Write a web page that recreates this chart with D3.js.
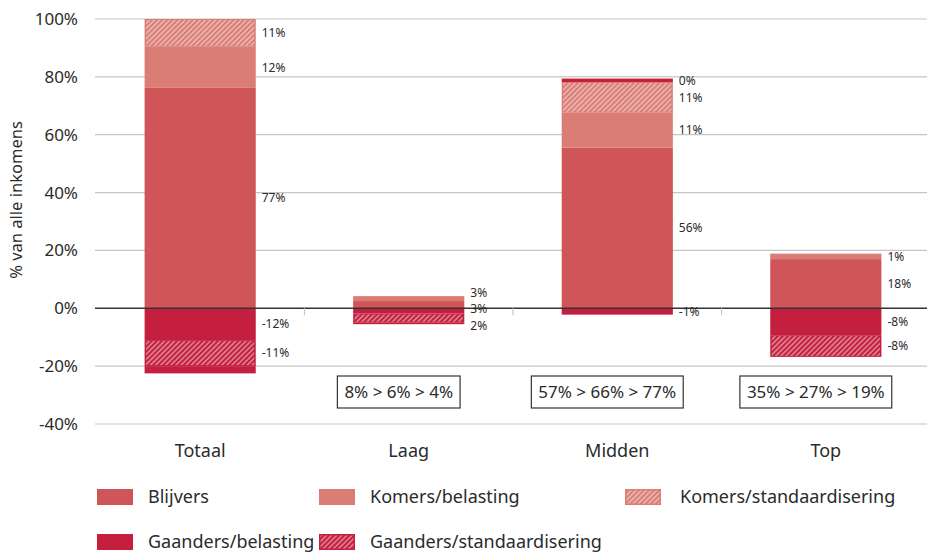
<!DOCTYPE html>
<html>
<head>
<meta charset="utf-8">
<script src="https://cdn.jsdelivr.net/npm/d3@7"></script>
<style>
	body { margin: 0; background: #fff; }
	svg { font-family: 'Noto Sans', 'Open Sans', sans-serif; }
</style>
</head>
<body>
<svg id="chart" width="927" height="554"></svg>
<script>
// categories and series (values in %)
const categories = ['Totaal', 'Laag', 'Midden', 'Top'];
const blijvers = [76.2, 2.5, 55.5, 17.0];
const komersBelasting = [14.2, 1.7, 12.1, 1.9];
const komersStandaard = [9.6, 0, 10.6, 0];
const gaandersBelasting = [-11.0, -1.8, -2.2, -9.3];
const gaandersStandaard = [-9.0, -3.2, 0, -7.5];
const gaandersRest = [-2.5, -0.5, 1.2, 0];

// value labels printed next to the bars
const blijversLabels = ['77%', null, '56%', '18%'];
const komersBelastingLabels = ['12%', '3%', '11%', '1%'];
const komersStandaardLabels = ['11%', null, '11%', null];
const gaandersBelastingLabels = ['-12%', '3%', '-1%', '-8%'];
const gaandersStandaardLabels = ['-11%', '2%', null, '-8%'];
const gaandersRestLabels = [null, null, '0%', null];

const shareBoxes = [null, '8% > 6% > 4%', '57% > 66% > 77%', '35% > 27% > 19%'];
const yTicks = [-40, -20, 0, 20, 40, 60, 80, 100];

const series = [
	{ name: 'Blijvers', values: blijvers, labels: blijversLabels, color: '#cf5558', hatch: false },
	{ name: 'Komers/belasting', values: komersBelasting, labels: komersBelastingLabels, color: '#da7d74', hatch: false },
	{ name: 'Komers/standaardisering', values: komersStandaard, labels: komersStandaardLabels, color: '#da7d74', hatch: true },
	{ name: 'Gaanders/belasting', values: gaandersBelasting, labels: gaandersBelastingLabels, color: '#c41f3e', hatch: false },
	{ name: 'Gaanders/standaardisering', values: gaandersStandaard, labels: gaandersStandaardLabels, color: '#c41f3e', hatch: true },
	{ name: 'rest', values: gaandersRest, labels: gaandersRestLabels, color: '#c41f3e', hatch: false, noLegend: true }
];

let svg = d3.select('#chart');
let defs = svg.append('defs');
defs.append('pattern')
	.attr('id', 'hatch')
	.attr('patternUnits', 'userSpaceOnUse')
	.attr('width', 3.6)
	.attr('height', 3.6)
	.attr('patternTransform', 'rotate(45)')
	.append('line')
	.attr('x1', 1).attr('y1', 0).attr('x2', 1).attr('y2', 3.6)
	.attr('stroke', '#fff')
	.attr('stroke-width', 0.9)
	.attr('stroke-opacity', 0.8);

let x = d3.scaleBand().domain(categories).range([96, 930]).paddingInner(0.467).paddingOuter(0.233);
let y = d3.scaleLinear().domain([-40, 100]).range([424, 19]);

// grid
let grid = svg.append('g');
grid.selectAll('line')
	.data(yTicks.filter((d) => d !== 0))
	.enter().append('line')
	.attr('x1', 95).attr('x2', 927)
	.attr('y1', (d) => y(d)).attr('y2', (d) => y(d))
	.attr('stroke', '#c6c6c6')
	.attr('stroke-width', 1.2);

// y axis tick labels
svg.append('g')
	.attr('transform', 'translate(78,0)')
	.call(d3.axisLeft(y).tickValues(yTicks).tickSize(0).tickPadding(0).tickFormat((d) => d + '%'))
	.call((g) => g.select('.domain').remove())
	.selectAll('text')
	.attr('font-size', 17)
	.attr('fill', '#2b2b2b')
	.attr('font-family', "'Noto Sans', 'Open Sans', sans-serif");

svg.append('text')
	.attr('transform', 'translate(22,' + 200 + ') rotate(-90)')
	.attr('text-anchor', 'middle')
	.attr('font-size', 16.5)
	.attr('fill', '#2b2b2b')
	.text('% van alle inkomens');

// stacked segments
let segments = [];
categories.forEach((c, i) => {
	let pos = 0, neg = 0;
	series.forEach((s) => {
		let v = s.values[i];
		let y0, y1;
		if (v >= 0) { y0 = pos; y1 = pos + v; pos = y1; }
		else { y0 = neg; y1 = neg + v; neg = y1; }
		segments.push({ cat: c, i: i, s: s, y0: y0, y1: y1, label: s.labels[i] });
	});
});

let bars = svg.append('g');
segments.filter((d) => d.y0 !== d.y1).forEach((d) => {
	let top = y(Math.max(d.y0, d.y1));
	let h = Math.abs(y(d.y0) - y(d.y1));
	bars.append('rect')
		.attr('x', x(d.cat)).attr('y', top)
		.attr('width', x.bandwidth()).attr('height', h)
		.attr('fill', d.s.color);
	if (d.s.hatch && h > 3) {
		bars.append('rect')
			.attr('x', x(d.cat) + 1.5).attr('y', top + 1)
			.attr('width', x.bandwidth() - 3).attr('height', h - 2)
			.attr('fill', 'url(#hatch)');
	}
});

// zero line and category separators
svg.append('line')
	.attr('x1', 95).attr('x2', 927)
	.attr('y1', y(0)).attr('y2', y(0))
	.attr('stroke', '#333').attr('stroke-width', 1.4);
svg.append('g').selectAll('line')
	.data(categories.slice(1))
	.enter().append('line')
	.attr('x1', (d) => x(d) - x.step() * x.paddingInner() / 2)
	.attr('x2', (d) => x(d) - x.step() * x.paddingInner() / 2)
	.attr('y1', y(0)).attr('y2', y(0) + 7)
	.attr('stroke', '#c6c6c6').attr('stroke-width', 1.2);

// value labels with simple overlap resolving per category
let minGap = 16.5;
categories.forEach((c, i) => {
	let labs = segments.filter((d) => d.i === i && d.label)
		.map((d) => ({ text: d.label, target: y((d.y0 + d.y1) / 2) }))
		.sort((a, b) => a.target - b.target);
	let clusters = labs.map((l) => ({ items: [l], mean: l.target }));
	let merged = true;
	while (merged) {
		merged = false;
		for (let k = 0; k < clusters.length - 1; k++) {
			let a = clusters[k], b = clusters[k + 1];
			let aEnd = a.mean + (a.items.length - 1) * minGap / 2;
			let bStart = b.mean - (b.items.length - 1) * minGap / 2;
			if (bStart - aEnd < minGap) {
				let items = a.items.concat(b.items);
				clusters.splice(k, 2, { items: items, mean: d3.mean(items, (t) => t.target) });
				merged = true;
				break;
			}
		}
	}
	clusters.forEach((cl) => {
		cl.items.forEach((t, k) => {
			svg.append('text')
				.attr('x', x(c) + x.bandwidth() + 6)
				.attr('y', cl.mean + (k - (cl.items.length - 1) / 2) * minGap)
				.attr('dy', '0.35em')
				.attr('font-size', 12)
				.attr('fill', '#2b2b2b')
				.text(t.text);
		});
	});
});

// category labels
svg.append('g').selectAll('text')
	.data(categories)
	.enter().append('text')
	.attr('x', (d) => x(d) + x.bandwidth() / 2)
	.attr('y', 457)
	.attr('text-anchor', 'middle')
	.attr('font-size', 18)
	.attr('fill', '#2b2b2b')
	.text((d) => d);

// share boxes
categories.forEach((c, i) => {
	if (!shareBoxes[i]) return;
	let g = svg.append('g');
	let t = g.append('text')
		.attr('x', x(c) + x.bandwidth() / 2 - 10)
		.attr('y', 392)
		.attr('dy', '0.35em')
		.attr('text-anchor', 'middle')
		.attr('font-size', 17)
		.attr('fill', '#2b2b2b')
		.text(shareBoxes[i]);
	let bb = t.node().getBBox();
	g.insert('rect', 'text')
		.attr('x', bb.x - 7).attr('y', 376)
		.attr('width', bb.width + 14).attr('height', 32)
		.attr('fill', '#fff')
		.attr('stroke', '#333').attr('stroke-width', 1.2);
});

// legend
let legendPos = [[97, 489], [319, 489], [625, 489], [97, 534], [319, 534]];
let legendItems = series.filter((s) => !s.noLegend);
let lg = svg.append('g');
legendItems.forEach((s, k) => {
	let p = legendPos[k];
	lg.append('rect')
		.attr('x', p[0]).attr('y', p[1])
		.attr('width', 36).attr('height', 16)
		.attr('fill', s.color);
	if (s.hatch) {
		lg.append('rect')
			.attr('x', p[0] + 1.5).attr('y', p[1] + 1.5)
			.attr('width', 33).attr('height', 13)
			.attr('fill', 'url(#hatch)');
	}
	lg.append('text')
		.attr('x', p[0] + (k === 2 ? 55 : 51))
		.attr('y', p[1] + 8)
		.attr('dy', '0.35em')
		.attr('font-size', 18)
		.attr('fill', '#2b2b2b')
		.text(s.name);
});
</script>
</body>
</html>
